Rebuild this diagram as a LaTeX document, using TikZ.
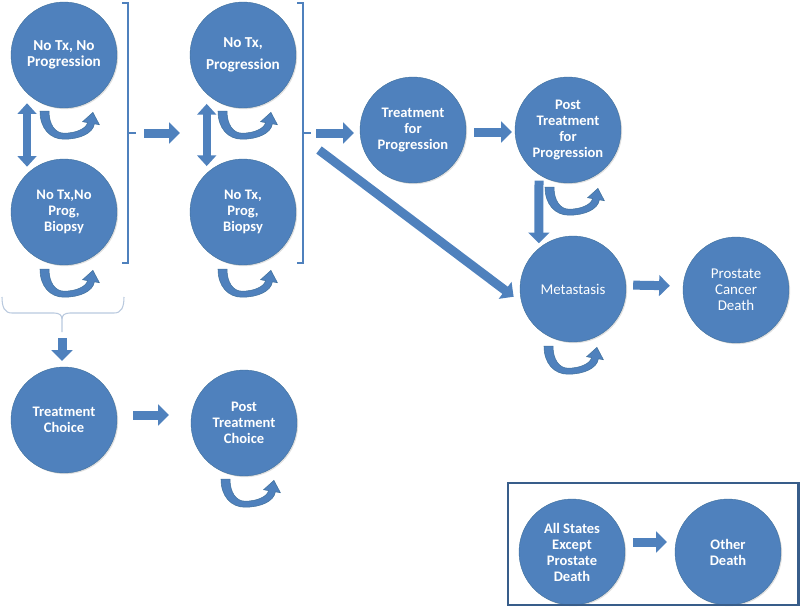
\documentclass[tikz,border=0pt]{standalone}
\usepackage{fontspec}
\newfontfamily\cfont{Carlito}
\usetikzlibrary{arrows.meta,shadows,calc}
\definecolor{cfill}{HTML}{4F81BD}
\definecolor{cedge}{HTML}{41719C}
\definecolor{bracec}{HTML}{B9C9DE}
\definecolor{boxc}{HTML}{385D8A}
\tikzset{
  state/.style={circle, minimum size=79.5pt, inner sep=0pt, fill=cfill, draw=cedge, line width=0.3pt,
    text=white, align=center, font=\cfont\bfseries\fontsize{10.9pt}{12pt}\selectfont,
    drop shadow={shadow xshift=0.9pt, shadow yshift=-0.9pt, opacity=0.25}},
  bigstate/.style={state, font=\cfont\bfseries\fontsize{11.4pt}{12pt}\selectfont},
  plainstate/.style={state, font=\cfont\fontsize{11.2pt}{12pt}\selectfont},
  fat/.style={draw=cfill, line width=6.75pt, -{Triangle[width=15.5pt,length=8pt]}},
  fatboth/.style={draw=cfill, line width=6pt, {Triangle[width=14pt,length=8pt]}-{Triangle[width=14pt,length=8pt]}},
  bracketline/.style={draw=cfill, line width=1.5pt},
  braceline/.style={draw=bracec, line width=0.8pt},
  uturnfill/.style={fill=cfill, draw=cedge, line width=0.4pt},
  uturn/.pic={\path[uturnfill] (0,0) .. controls (0,17) and (10,28) .. (24,28)
      .. controls (40,28) and (53,22) .. (54.4,12.6) -- (59.4,13.5) -- (52.9,1.2) -- (42.6,10.5) -- (47.6,11.4)
      .. controls (46,18) and (35,22) .. (24,22) .. controls (15,22) and (9,13) .. (9,0) -- cycle;}
}
\begin{document}
\begin{tikzpicture}[x=0.75pt,y=-0.75pt]
\useasboundingbox (0,0) rectangle (800,608);
% states
\node[bigstate] (n1) at (64,55) {No Tx, No\\Progression};
\node[state] (n2) at (64,212) {No Tx,No\\Prog,\\Biopsy};
\node[bigstate] (n3) at (243,55) {No Tx,\\[5pt]Progression};
\node[state] (n4) at (243,212) {No Tx,\\Prog,\\Biopsy};
\node[state] (tfp) at (413,130) {Treatment\\for\\Progression};
\node[state] (ptfp) at (568,130) {Post\\Treatment\\for\\Progression};
\node[plainstate] (met) at (573,289) {Metastasis};
\node[plainstate] (pcd) at (736,290) {Prostate\\Cancer\\Death};
\node[state] (tc) at (64,420) {Treatment\\Choice};
\node[state] (ptc) at (244,423) {Post\\Treatment\\Choice};
\node[state] (asp) at (572,552) {All States\\Except\\Prostate\\Death};
\node[state] (od) at (728,552) {Other\\Death};
% brackets
\coordinate (b1m) at (136,133);
\coordinate (b2m) at (311,133);
\draw[bracketline] (122,3) -- (128,3) -- (128,263) -- (122,263);
\draw[bracketline] (128,133) -- (b1m);
\draw[bracketline] (297,3) -- (303,3) -- (303,263) -- (297,263);
\draw[bracketline] (303,133) -- (b2m);
% brace
\coordinate (bt) at (62,332);
\draw[braceline] (2,297) .. controls (2,308) and (5,313) .. (12,313) -- (54,313)
   .. controls (59,313) and (62,315) .. (62,319) -- (bt);
\draw[braceline] (124,297) .. controls (124,308) and (121,313) .. (114,313) -- (70,313)
   .. controls (65,313) and (62,315) .. (62,319);
% self loops
\pic at ([shift={(-24,3)}]n1.south) {uturn};
\pic at ([shift={(-24,4)}]n2.south) {uturn};
\pic at ([shift={(-25,3)}]n3.south) {uturn};
\pic at ([shift={(-25,4)}]n4.south) {uturn};
\pic at ([shift={(-23,4)}]ptfp.south) {uturn};
\pic at ([shift={(-29,4)}]met.south) {uturn};
\pic at ([shift={(-23,3)}]ptc.south) {uturn};
% double arrows
\draw[fatboth, shorten <=7.5pt, shorten >=5.25pt] (n1.-134) -- (n2.134);
\draw[fatboth, shorten <=7.5pt, shorten >=5.25pt] (n3.-133) -- (n4.133);
% block arrows
\draw[fat, shorten <=6pt, shorten >=7.5pt] (b1m) -- (b1m -| n3.west);
\draw[fat, shorten <=3.75pt, shorten >=4.5pt] (b2m) -- (b2m -| tfp.west);
\draw[fat, shorten <=6pt, shorten >=2.25pt] ([yshift=-1.5pt]tfp.east) -- ([yshift=-1.5pt]ptfp.west);
\coordinate (d1) at (319,150);
\draw[fat, shorten >=7.5pt] (d1) -- (met.195);
\draw[fat, shorten <=4.5pt, shorten >=3.75pt] (ptfp.-123) -- (met.130);
\draw[fat, shorten <=5.25pt, shorten >=9.75pt] ([yshift=3pt]met.east) -- ([yshift=3pt]pcd.west);
\draw[fat, shorten <=4.5pt, shorten >=4.5pt] (bt) -- (bt |- tc.north);
\draw[fat, shorten <=12pt, shorten >=16.5pt] ([yshift=3.75pt]tc.east) -- ([yshift=3.75pt]tc.east -| ptc.west);
\draw[fat, shorten <=6pt, shorten >=6pt] ([yshift=7.5pt]asp.east) -- ([yshift=7.5pt]asp.east -| od.west);
% box
\draw[draw=boxc, line width=2pt] (508,483) rectangle (798.5,605);
\end{tikzpicture}
\end{document}
